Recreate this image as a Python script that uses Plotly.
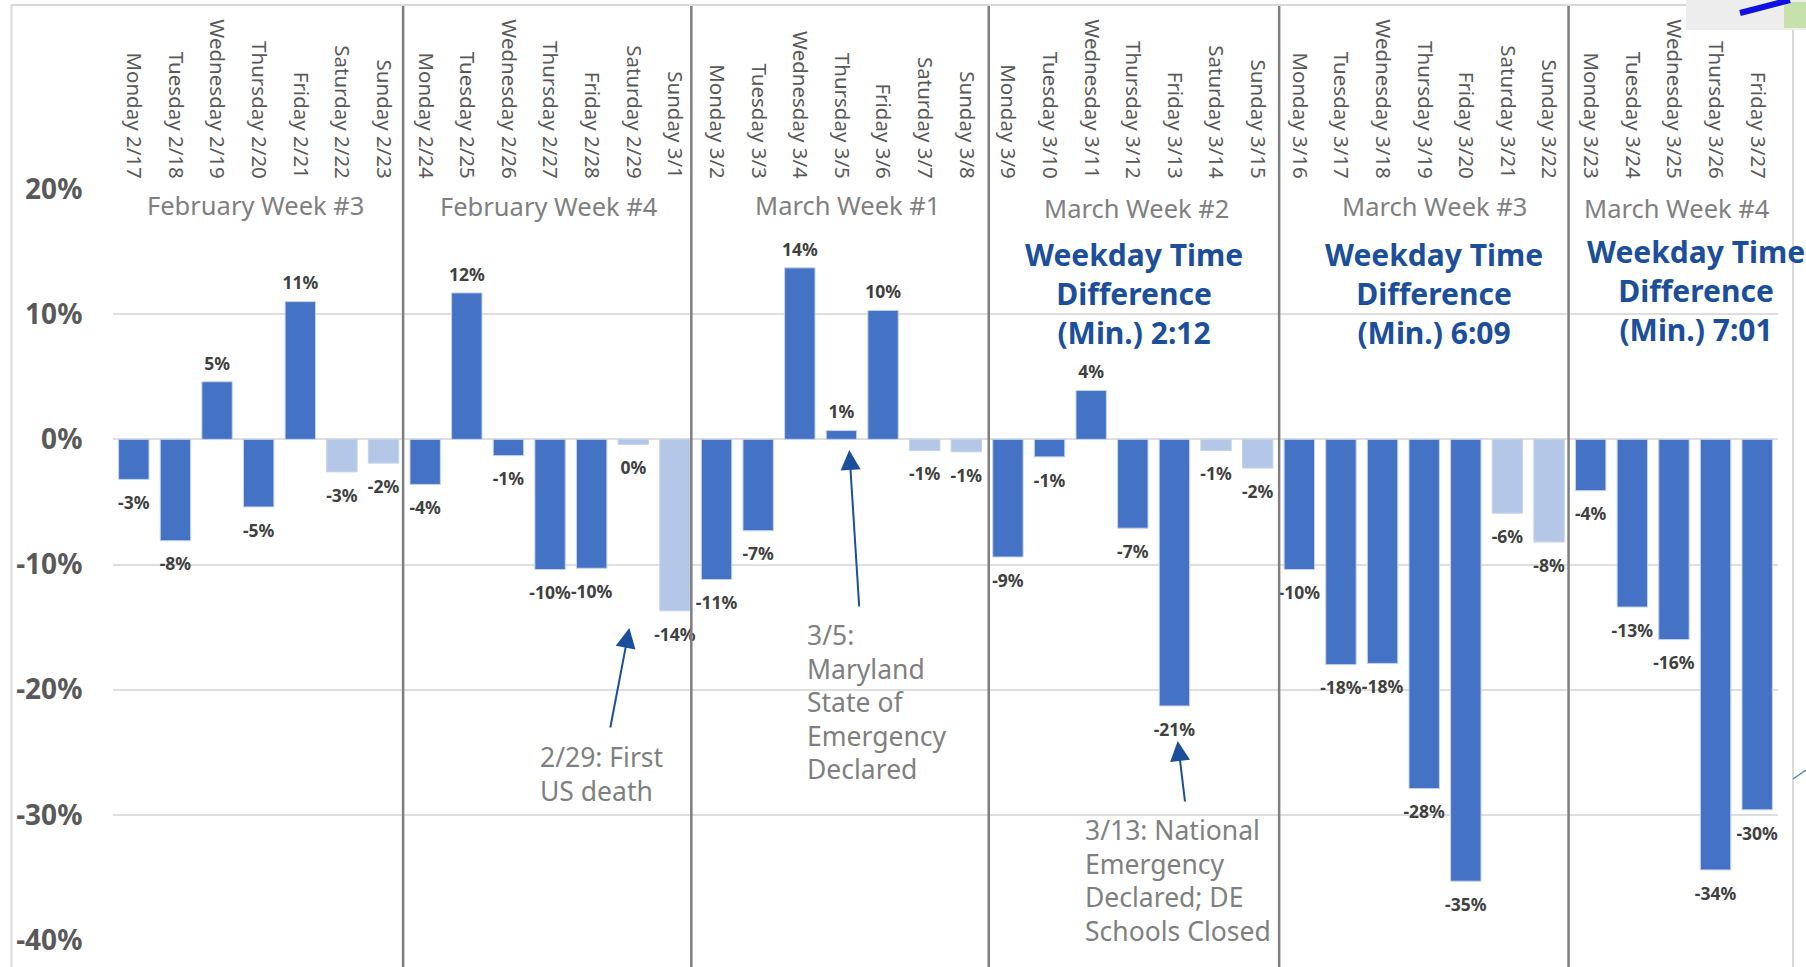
import plotly.graph_objects as go

W, H = 1806, 967
L, R, T, B = 112.5, 1778, 189, 940

days = ["Monday 2/17","Tuesday 2/18","Wednesday 2/19","Thursday 2/20","Friday 2/21","Saturday 2/22","Sunday 2/23",
        "Monday 2/24","Tuesday 2/25","Wednesday 2/26","Thursday 2/27","Friday 2/28","Saturday 2/29","Sunday 3/1",
        "Monday 3/2","Tuesday 3/3","Wednesday 3/4","Thursday 3/5","Friday 3/6","Saturday 3/7","Sunday 3/8",
        "Monday 3/9","Tuesday 3/10","Wednesday 3/11","Thursday 3/12","Friday 3/13","Saturday 3/14","Sunday 3/15",
        "Monday 3/16","Tuesday 3/17","Wednesday 3/18","Thursday 3/19","Friday 3/20","Saturday 3/21","Sunday 3/22",
        "Monday 3/23","Tuesday 3/24","Wednesday 3/25","Thursday 3/26","Friday 3/27"]
values = [-3.2,-8.1,4.6,-5.4,11.0,-2.6,-1.9,
          -3.6,11.7,-1.3,-10.4,-10.3,-0.4,-13.7,
          -11.2,-7.3,13.7,0.7,10.3,-0.9,-1.0,
          -9.4,-1.4,3.9,-7.1,-21.3,-0.9,-2.3,
          -10.4,-18.0,-17.9,-27.9,-35.3,-5.9,-8.2,
          -4.1,-13.4,-16.0,-34.4,-29.6]
y_ticks = [20,10,0,-10,-20,-30,-40]
week_titles = ["February Week #3","February Week #4","March Week #1","March Week #2","March Week #3","March Week #4"]
time_diffs = ["2:12","6:09","7:01"]

DARK, LIGHT = "#4472C4", "#B4C7E7"
colors = [LIGHT if d.startswith(("Saturday","Sunday")) else DARK for d in days]
FONT = "Noto Sans"
BLUE = "#1B4E9B"

def ax(x): return (x - L) / (R - L)
def ay(y): return (B - y) / (B - T)

fig = go.Figure(go.Bar(
    x=days, y=values, marker=dict(color=colors, line=dict(color="#C5D3EC", width=1)),
    hoverinfo="skip"))
fig.add_trace(go.Scatter(
    x=days, y=values, mode="markers+text",
    marker=dict(size=[11 if v > 0 else 25 for v in values], opacity=0),
    text=[f"{round(v)}%" for v in values], cliponaxis=False,
    textposition=["top center" if v > 0 else "bottom center" for v in values],
    textfont=dict(family=FONT, size=17.5, color="#404040", weight=700), hoverinfo="skip"))

shapes = []
shapes.append(dict(type="rect", xref="paper", yref="paper", x0=ax(11), x1=ax(1793), y0=ay(5), y1=ay(990),
                   line=dict(color="#D9D9D9", width=2), fillcolor="rgba(0,0,0,0)", layer="below"))
for x in [402.7, 691, 988.5, 1279, 1568.5]:
    shapes.append(dict(type="line", xref="paper", yref="paper", x0=ax(x), x1=ax(x), y0=ay(6), y1=ay(967),
                       line=dict(color="#7F7F7F", width=2.5)))
# map fragment, top right corner
shapes.append(dict(type="rect", xref="paper", yref="paper", x0=ax(1686), x1=ax(1806), y0=ay(0), y1=ay(30),
                   line=dict(width=0), fillcolor="#EDEDED"))
shapes.append(dict(type="rect", xref="paper", yref="paper", x0=ax(1784), x1=ax(1806), y0=ay(2), y1=ay(28),
                   line=dict(width=0), fillcolor="#C5E0A8"))
shapes.append(dict(type="line", xref="paper", yref="paper", x0=ax(1740), x1=ax(1790), y0=ay(13), y1=ay(0),
                   line=dict(color="#1010E0", width=6)))
shapes.append(dict(type="line", xref="paper", yref="paper", x0=ax(1793), x1=ax(1806), y0=ay(779), y1=ay(770),
                   line=dict(color="#5B8BC9", width=1.5)))

ann = []
def text(x, y, s, size, color, align="center", anchor="center", weight=400):
    ann.append(dict(xref="paper", yref="paper", x=ax(x), y=ay(y), text=s, showarrow=False, align=align,
                    xanchor=anchor, yanchor="middle", font=dict(family=FONT, size=size, color=color, weight=weight)))

for cx, cy, t in zip([255, 549, 847, 1136, 1434, 1677], [204.5, 206.5, 205.5, 207.5, 206.5, 207.5], week_titles):
    text(cx, cy, t, 25.5, "#7F7F7F")
for cx, cy, t in zip([1134, 1434, 1696], [293, 293, 290.5], time_diffs):
    text(cx, cy, f"Weekday Time<br>Difference<br>(Min.) {t}", 30, BLUE, weight=700)

notes = [(538, 757, ["2/29: First", "US death"]),
         (805, 635, ["3/5:", "Maryland", "State of", "Emergency", "Declared"]),
         (1083, 830, ["3/13: National", "Emergency", "Declared; DE", "Schools Closed"])]
for nx, ny, lines in notes:
    for i, line in enumerate(lines):
        text(nx, ny + i * 33.5, line, 26.5, "#7F7F7F", "left", "left")

for (x0, y0, x1, y1) in [(609.7, 729, 629, 628), (859, 608, 849, 450), (1185, 803, 1177.5, 741)]:
    ann.append(dict(xref="paper", yref="paper", axref="pixel", ayref="pixel", x=ax(x1), y=ay(y1), ax=x0 - x1, ay=y0 - y1,
                    text="", showarrow=True, arrowhead=2, arrowsize=2, arrowwidth=2, arrowcolor=BLUE))

fig.update_layout(
    width=W, height=H, autosize=False, paper_bgcolor="white", plot_bgcolor="white", showlegend=False,
    margin=dict(l=L, r=W - R, t=T, b=H - B), bargap=0.27, shapes=shapes, annotations=ann,
    xaxis=dict(side="top", tickangle=90, type="category", range=[-0.5, 39.5],
               tickfont=dict(family=FONT, size=20.5, color="#595959"),
               ticks="outside", ticklen=2, tickcolor="rgba(0,0,0,0)", showgrid=False, zeroline=False, showline=False,
               automargin=False),
    yaxis=dict(range=[-40, 20], tickmode="array", tickvals=y_ticks, ticktext=[f"{v}%" for v in y_ticks],
               tickfont=dict(family=FONT, size=28, color="#595959", weight=700), gridcolor="#DEDEDE", gridwidth=1.5,
               zeroline=True, zerolinecolor="#DEDEDE", zerolinewidth=1.5, showline=False, ticks="outside", ticklen=24,
               tickcolor="rgba(0,0,0,0)", automargin=False),
)
fig.write_html("out.html", config={"displayModeBar": False},
               post_script="document.body.style.margin='0';document.body.style.overflow='hidden';")
